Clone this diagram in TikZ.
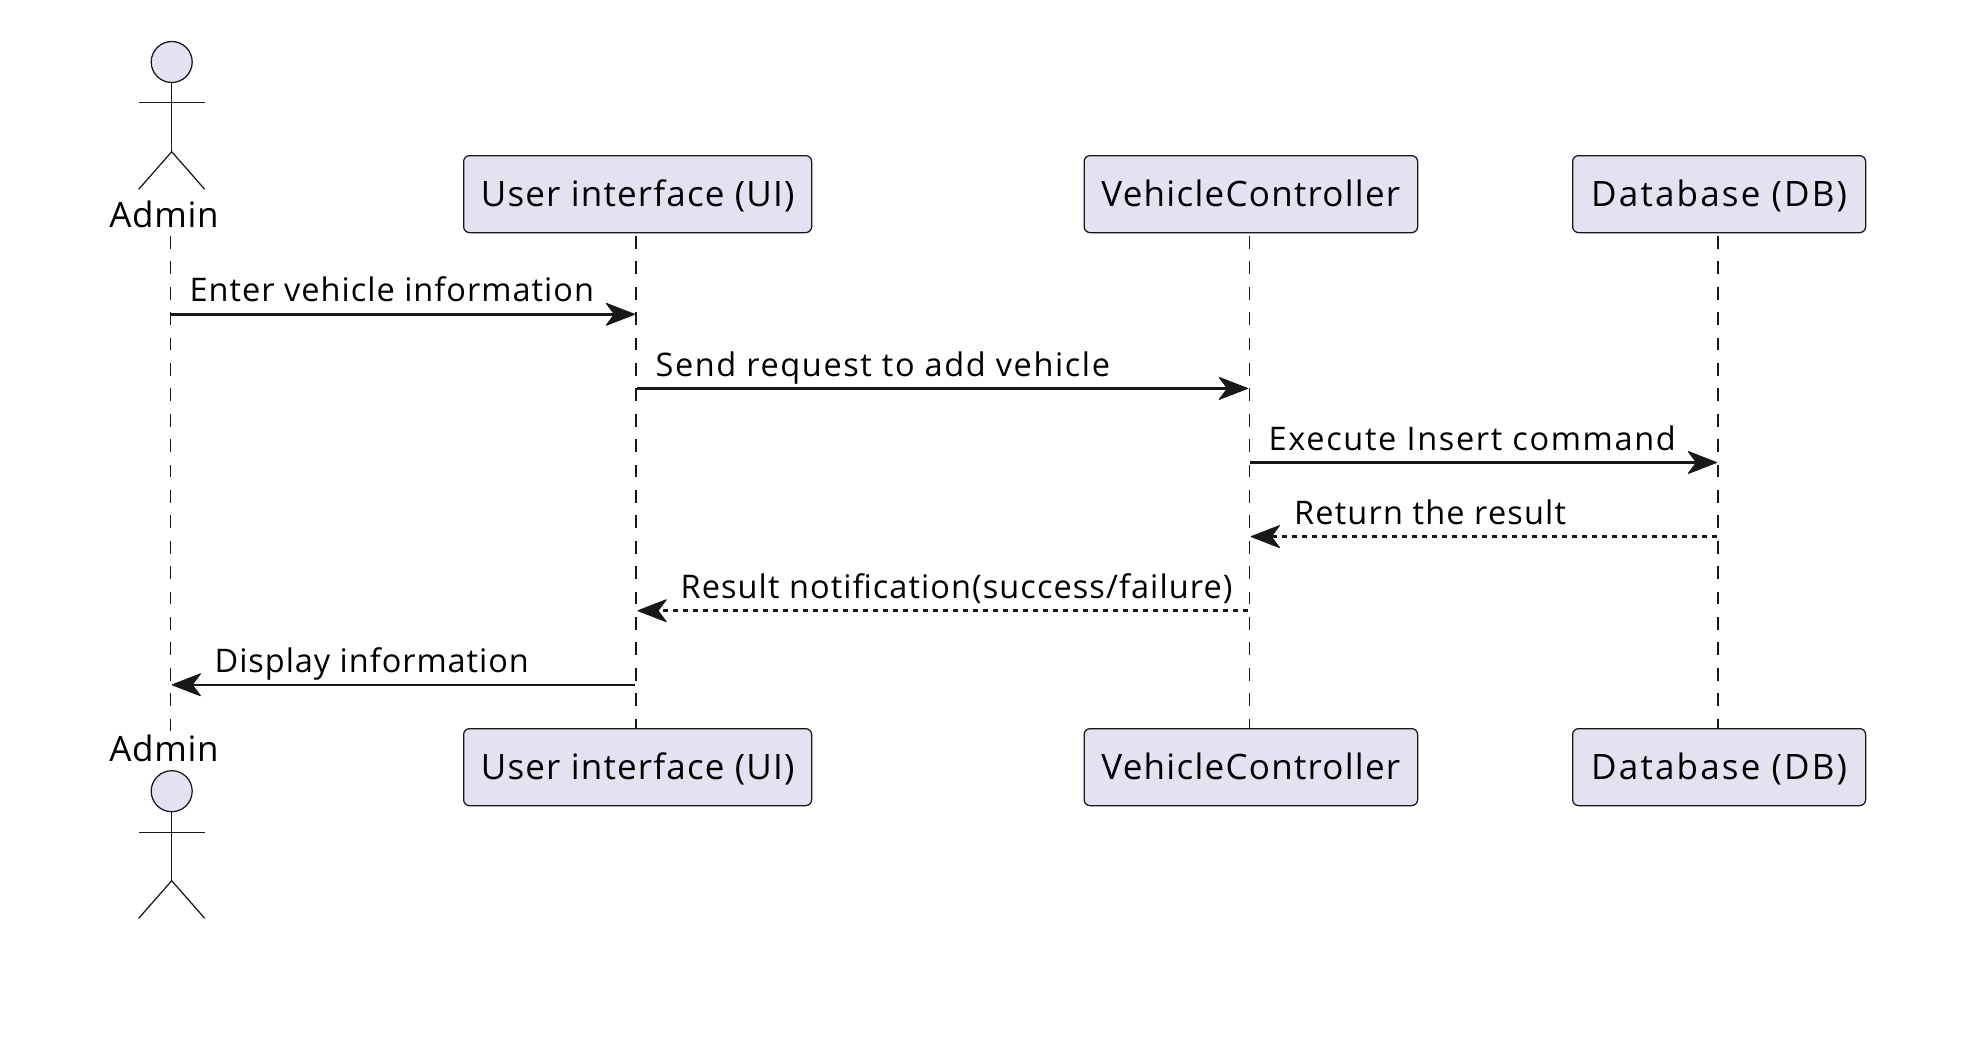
\documentclass[tikz,border=0pt]{standalone}
\usepackage{fontspec}
\setmainfont{Open Sans}
\usetikzlibrary{arrows.meta}
\definecolor{pfill}{HTML}{E2E2F0}
\definecolor{pline}{HTML}{181818}
\newcommand{\spaced}[2]{{\addfontfeature{LetterSpace=#1}#2}}
\tikzset{
  x=1pt,y=-1pt,
  box/.style={draw=pline,line width=1.25pt,fill=pfill,rounded corners=6pt,inner sep=0pt,anchor=north west,
     minimum height=77pt,text height=29.3pt,text depth=4.6pt,font=\fontsize{35}{42}\selectfont},
  actorname/.style={inner sep=0pt,anchor=base,font=\fontsize{35}{42}\selectfont},
  msglabel/.style={inner sep=0pt,anchor=base west,font=\fontsize{32.5}{40}\selectfont},
  lifeline/.style={draw=pline,line width=1.25pt,dash pattern=on 12.7pt off 12.7pt},
  actorline/.style={draw=pline,line width=1.25pt},
  actorhead/.style={draw=pline,line width=1.25pt,fill=pfill,circle,inner sep=0pt,minimum size=41pt},
  msg/.style={draw=pline,line width=2.5pt,-{Stealth[length=31pt,width=24pt,inset=9pt,round,line width=1pt]}},
  reply/.style={msg,dash pattern=on 5pt off 5pt},
}
\begin{document}
\begin{tikzpicture}
\useasboundingbox (0,0) rectangle (1969,1050);
% lifeline ends
\coordinate (at) at (170.3,236); \coordinate (ab) at (170.3,731);
\coordinate (ut) at (636,236);   \coordinate (ub) at (636,731);
\coordinate (vt) at (1249.3,236);  \coordinate (vb) at (1249.3,731);
\coordinate (dt) at (1718,236);  \coordinate (db) at (1718,731);
\draw[lifeline] (at) -- (ab);
\draw[lifeline] (ut) -- (ub);
\draw[lifeline] (vt) -- (vb);
\draw[lifeline] (dt) -- (db);
% top participants
\node[box,minimum width=348pt] (uiT) at (463,155) {\spaced{3.4}{User interface (UI)}};
\node[box,minimum width=333.5pt] (vcT) at (1083.5,155) {\spaced{3.6}{VehicleController}};
\node[box,minimum width=293pt] (dbT) at (1572,155) {\spaced{6.2}{Database (DB)}};
% bottom participants
\node[box,minimum width=348pt] (uiB) at (463,728) {\spaced{3.4}{User interface (UI)}};
\node[box,minimum width=333.5pt] (vcB) at (1083.5,728) {\spaced{3.6}{VehicleController}};
\node[box,minimum width=293pt] (dbB) at (1572,728) {\spaced{6.2}{Database (DB)}};
% top actor
\node[actorhead] (headT) at (171.7,62) {};
\coordinate (hipT) at (171.7,151.7);
\coordinate (armlT) at (138.7,102.7); \coordinate (armrT) at (204.7,102.7);
\coordinate (footlT) at (138.7,189.3); \coordinate (footrT) at (204.7,189.3);
\draw[actorline] (headT) -- (hipT);
\draw[actorline] (armlT) -- (armrT);
\draw[actorline] (footlT) -- (hipT) -- (footrT);
\node[actorname] (adminT) at (164,227.5) {\spaced{2}{Admin}};
% bottom actor
\node[actorname] (adminB) at (164,761) {\spaced{2}{Admin}};
\node[actorhead] (headB) at (171.7,791.2) {};
\coordinate (hipB) at (171.7,880.7);
\coordinate (armlB) at (138.7,832.3); \coordinate (armrB) at (204.7,832.3);
\coordinate (footlB) at (138.7,918.3); \coordinate (footrB) at (204.7,918.3);
\draw[actorline] (headB) -- (hipB);
\draw[actorline] (armlB) -- (armrB);
\draw[actorline] (footlB) -- (hipB) -- (footrB);
% messages
\coordinate (m1a) at (171,314.3);  \coordinate (m1b) at (635,314.3);
\coordinate (m2a) at (637,388.4);  \coordinate (m2b) at (1248,388.4);
\coordinate (m3a) at (1250,462.5); \coordinate (m3b) at (1717,462.5);
\coordinate (m4a) at (1717,536.6); \coordinate (m4b) at (1250.7,536.6);
\coordinate (m5a) at (1248,610.7); \coordinate (m5b) at (637.5,610.7);
\coordinate (m6a) at (635,684.8);  \coordinate (m6b) at (171.7,684.8);
\draw[msg] (m1a) -- (m1b);
\draw[msg] (m2a) -- (m2b);
\draw[msg] (m3a) -- (m3b);
\draw[reply] (m4a) -- (m4b);
\draw[reply] (m5a) -- (m5b);
\draw[msg] (m6a) -- (m6b);
\node[msglabel] (t1) at (189.5,301.5) {\spaced{3.1}{Enter vehicle information}};
\node[msglabel] (t2) at (655.5,376.6) {\spaced{4.9}{Send request to add vehicle}};
\node[msglabel] (t3) at (1268.5,450.7) {\spaced{5.1}{Execute Insert command}};
\node[msglabel] (t4) at (1294,524.8) {\spaced{3.6}{Return the result}};
\node[msglabel] (t5) at (680.5,598.9) {\spaced{3.3}{Result notification(success/failure)}};
\node[msglabel] (t6) at (214.5,672) {\spaced{2.9}{Display information}};
\end{tikzpicture}
\end{document}
